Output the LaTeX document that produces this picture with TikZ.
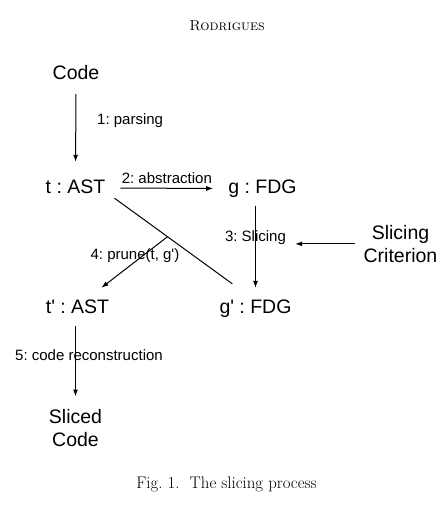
\documentclass[tikz,border=0pt]{standalone}
\usepackage{fontspec}
\usepackage{tikz}
\usetikzlibrary{arrows.meta}
\newfontfamily\arialfont{Liberation Sans}

\begin{document}
\begin{tikzpicture}[x=1pt, y=-1pt,
		stage/.style={font=\arialfont\frenchspacing\fontsize{19.5}{23}\selectfont, inner sep=0pt, text height=14pt, text depth=4pt, anchor=base},
		stagetwo/.style={font=\arialfont\fontsize{19.5}{23}\selectfont, inner sep=0pt, align=center, anchor=north},
		phase/.style={font=\arialfont\frenchspacing\fontsize{15}{18}\selectfont, inner sep=0pt, anchor=base},
		flow/.style={-{Latex[length=7pt, width=5pt]}, line width=1pt}]
	
	% page size as in the scan
	\useasboundingbox (0,0) rectangle (445,505);
	
	% running head and caption
	\node[font=\fontsize{14.5}{17}\selectfont, inner sep=0pt, anchor=base] (head) at (227,30.5) {\textsc{Rodrigues}};
	\node[font=\fontsize{16.8}{19}\selectfont, inner sep=0pt, anchor=base] (cap) at (226.5,488.5) {Fig.~1.\ \ The slicing process};
	
	% the artefacts
	\node[stage] (code) at (76,80) {Code};
	\node[stage] (t) at (75.5,193) {t : AST};
	\node[stage] (g) at (262.5,193.5) {g : FDG};
	\node[stage] (tp) at (77.5,313) {t' : AST};
	\node[stage] (gp) at (255.5,313) {g' : FDG};
	\node[stagetwo] (crit) at (400.5,225) {Slicing\\Criterion};
	\node[stagetwo] (sliced) at (75.5,409.5) {Sliced\\Code};
	
	% 1: parsing
	\draw[flow, shorten <=10pt, shorten >=17pt] (code.south) -- (t.north);
	\node[phase, anchor=base west] (parse) at (97,125) {1: parsing};
	
	% 2: abstraction
	\draw[flow, shorten <=15pt, shorten >=15pt] (t.east) -- (g.west)
		node[phase, midway, above=4pt] (abstr) {2: abstraction};
	
	% 3: slicing, fed by the criterion
	\draw[flow, shorten <=8pt, shorten >=11pt] (gp.north |- g.south) -- (gp.north);
	\node[phase] (slab) at (255.5,241) {3: Slicing};
	\draw[flow, shorten <=8pt, shorten >=9pt] (crit.west) -- (crit.west -| slab.east);
	
	% t and g' together give the pruning
	\draw[line width=1pt] ([shift={(9,1)}]t.south east) -- coordinate[pos=0.45] (cut) ([shift={(13,-15)}]gp.north west);
	\draw[flow] (cut) -- ([shift={(-8,-11)}]tp.north east);
	\node[phase] (prune) at (135,259) {4: prune(t, g')};
	
	% 5: back to code
	\draw[flow, shorten <=9pt, shorten >=13pt] (sliced.north |- tp.south) -- (sliced.north);
	\node[phase] (recon) at (89,360.5) {5: code reconstruction};
	
\end{tikzpicture}
\end{document}
